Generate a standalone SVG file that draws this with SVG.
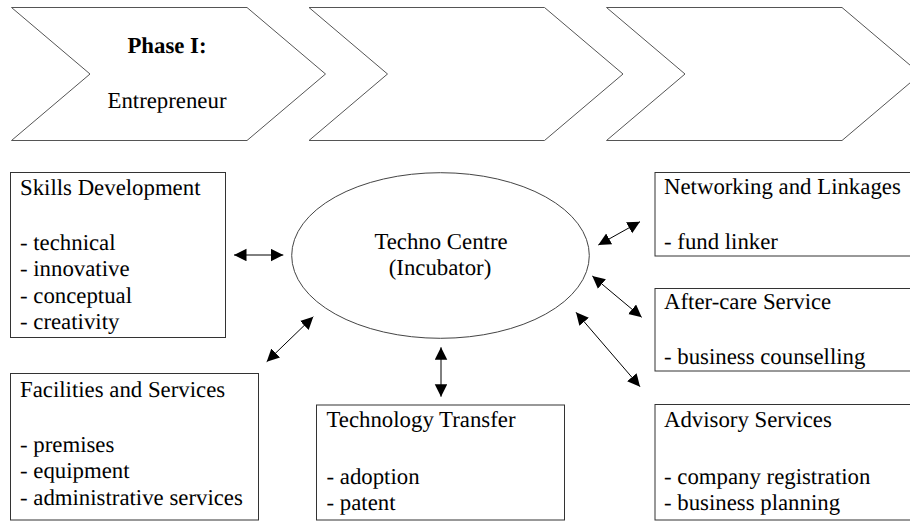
<svg xmlns="http://www.w3.org/2000/svg" width="910" height="523" viewBox="0 0 910 523">
<style>
  text { font-family: 'Liberation Serif', 'Times New Roman', serif; font-size: 22.8px; fill: #000; text-rendering: geometricPrecision; }
  .bold { font-weight: bold; }
  .chev { fill: #fff; stroke: #555; stroke-width: 1; }
  .box { fill: #fff; stroke: #333; stroke-width: 1; }
  .conn line { stroke: #000; stroke-width: 1; marker-start: url(#ah); marker-end: url(#ah); }
</style>
<defs>
  <marker id="ah" markerUnits="userSpaceOnUse" markerWidth="13" markerHeight="13" refX="12.5" refY="6.25" orient="auto-start-reverse">
    <path d="M0,0 L12.5,6.25 L0,12.5 z" fill="#000"/>
  </marker>
</defs>
<rect x="0" y="0" width="910" height="523" fill="#fff"/>

<g id="phase1">
  <polygon class="chev" points="11.5,7.5 247,7.5 325.5,74 247,140.5 11.5,140.5 90,74"/>
  <text class="bold" x="167" y="53.3" text-anchor="middle">Phase I:</text>
  <text x="167" y="107.7" text-anchor="middle">Entrepreneur</text>
</g>
<g id="phase2">
  <polygon class="chev" points="309,7.5 544.5,7.5 623,74 544.5,140.5 309,140.5 387.5,74"/>
</g>
<g id="phase3">
  <polygon class="chev" points="606.5,7.5 842,7.5 920.5,74 842,140.5 606.5,140.5 685,74"/>
</g>

<g id="skills">
  <rect class="box" x="10.5" y="172.5" width="215" height="165"/>
  <text x="20" y="194.5">Skills Development</text>
  <text x="20" y="249.5">- technical</text>
  <text x="20" y="276">- innovative</text>
  <text x="20" y="302.5">- conceptual</text>
  <text x="20" y="329">- creativity</text>
</g>

<g id="techno">
  <ellipse cx="440.5" cy="255.5" rx="148.8" ry="82.8" fill="#fff" stroke="#444" stroke-width="1"/>
  <text x="441" y="249.3" text-anchor="middle">Techno Centre</text>
  <text x="440" y="275" text-anchor="middle">(Incubator)</text>
</g>

<g id="facilities">
  <rect class="box" x="10.5" y="373.5" width="248" height="146.5"/>
  <text x="20" y="397.3">Facilities and Services</text>
  <text x="20" y="451.7">- premises</text>
  <text x="20" y="478.3">- equipment</text>
  <text x="20" y="505">- administrative services</text>
</g>

<g id="techtransfer">
  <rect class="box" x="316.5" y="405" width="248" height="115"/>
  <text x="326.5" y="427.3">Technology Transfer</text>
  <text x="326.5" y="484">- adoption</text>
  <text x="326.5" y="510">- patent</text>
</g>

<g id="networking">
  <rect class="box" x="655" y="172.5" width="270" height="83.5"/>
  <text x="664" y="194">Networking and Linkages</text>
  <text x="664" y="248.5">- fund linker</text>
</g>

<g id="aftercare">
  <rect class="box" x="655" y="288.5" width="270" height="82.5"/>
  <text x="664" y="309">After-care Service</text>
  <text x="664" y="363.5">- business counselling</text>
</g>

<g id="advisory">
  <rect class="box" x="655" y="404.5" width="270" height="115.5"/>
  <text x="664" y="427.3">Advisory Services</text>
  <text x="664" y="484">- company registration</text>
  <text x="664" y="510">- business planning</text>
</g>

<g id="connectors" class="conn">
  <line x1="234" y1="255" x2="283.3" y2="255"/>
  <line x1="313.3" y1="316.7" x2="266.7" y2="361.7"/>
  <line x1="441" y1="347.3" x2="441" y2="396.7"/>
  <line x1="640" y1="221.7" x2="598.3" y2="245"/>
  <line x1="592.3" y1="276" x2="641.7" y2="317.3"/>
  <line x1="576" y1="312.3" x2="640" y2="386.7"/>
</g>
</svg>
